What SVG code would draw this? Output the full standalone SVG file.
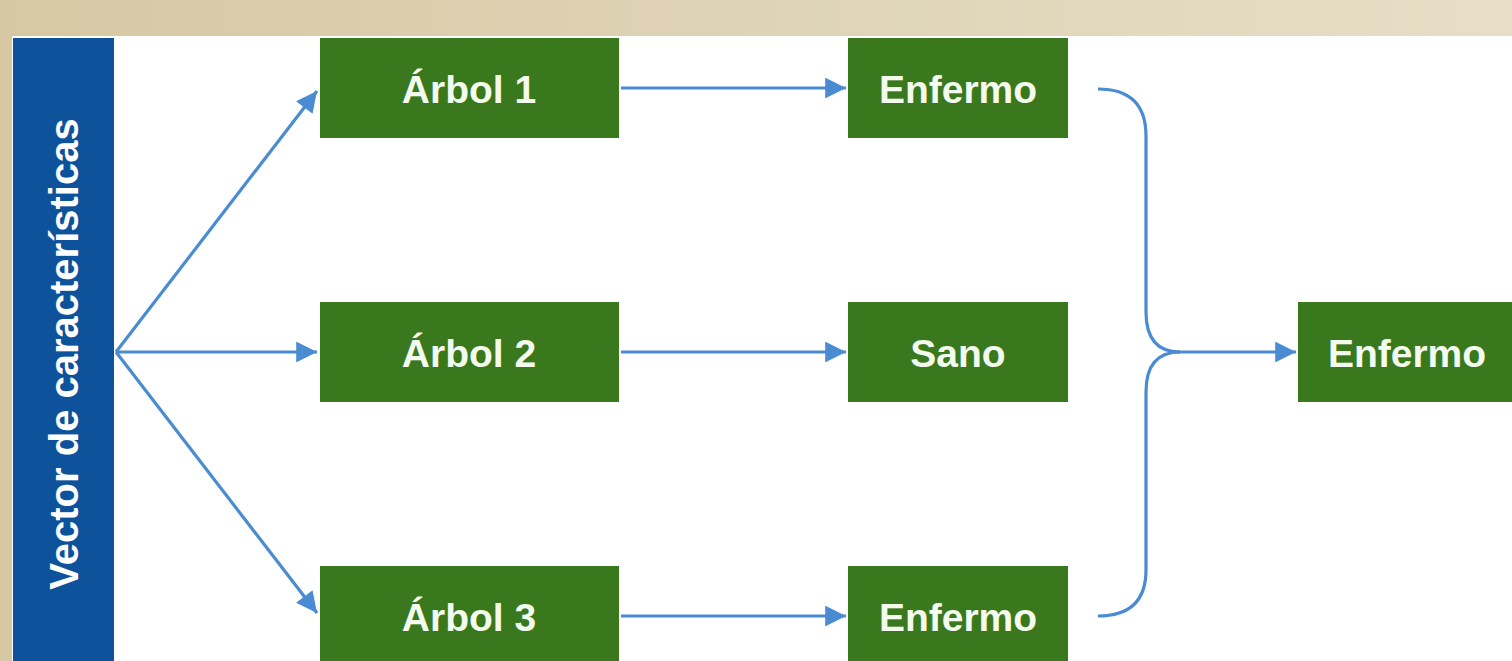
<svg xmlns="http://www.w3.org/2000/svg" width="1512" height="661" viewBox="0 0 1512 661">
  <defs>
    <linearGradient id="frame" x1="0" y1="0" x2="1" y2="0">
      <stop offset="0" stop-color="#d6c8a3"/>
      <stop offset="1" stop-color="#e6dec7"/>
    </linearGradient>
    <marker id="arrow" viewBox="0 0 10 10" refX="10" refY="5" markerWidth="8.5" markerHeight="6.5" markerUnits="strokeWidth" orient="auto">
      <path d="M0,0 L10,5 L0,10 z" fill="#4a8bd2"/>
    </marker>
    <style>
      .node rect { fill: #3a781d; }
      .node text { fill: #f3faee; font-family: "Liberation Sans", Arial, sans-serif; font-weight: bold; font-size: 39px; text-anchor: middle; }
      .link { fill: none; stroke: #4a8bd2; stroke-width: 3.2; }
      .bar text { fill: #ffffff; font-family: "Liberation Sans", Arial, sans-serif; font-weight: bold; font-size: 40px; text-anchor: middle; }
    </style>
  </defs>

  <!-- page background -->
  <rect x="0" y="0" width="1512" height="661" fill="url(#frame)"/>
  <rect x="12" y="36" width="1500" height="625" fill="#ffffff"/>

  <!-- input vector -->
  <g id="vector" class="bar">
    <rect x="13" y="38" width="101" height="623" fill="#0e529c"/>
    <text transform="translate(78,354) rotate(-90)">Vector de características</text>
  </g>

  <!-- connectors -->
  <g id="connectors">
    <path class="link" d="M116,352 L317,91" marker-end="url(#arrow)"/>
    <path class="link" d="M116,352 L317,352" marker-end="url(#arrow)"/>
    <path class="link" d="M116,352 L317,613" marker-end="url(#arrow)"/>
    <path class="link" d="M621,88 L846,88" marker-end="url(#arrow)"/>
    <path class="link" d="M621,352 L846,352" marker-end="url(#arrow)"/>
    <path class="link" d="M621,616 L846,616" marker-end="url(#arrow)"/>
    <path class="link" d="M1098,89 Q1146,89 1146,136 L1146,312 Q1146,352 1180,352"/>
    <path class="link" d="M1098,616 Q1146,616 1146,570 L1146,392 Q1146,352 1180,352"/>
    <path class="link" d="M1178,352 L1296,352" marker-end="url(#arrow)"/>
  </g>

  <!-- trees -->
  <g id="arbol1" class="node">
    <rect x="320" y="38" width="299" height="100"/>
    <text x="469" y="103">Árbol 1</text>
  </g>
  <g id="arbol2" class="node">
    <rect x="320" y="302" width="299" height="100"/>
    <text x="469" y="367">Árbol 2</text>
  </g>
  <g id="arbol3" class="node">
    <rect x="320" y="566" width="299" height="100"/>
    <text x="469" y="631">Árbol 3</text>
  </g>

  <!-- per-tree votes -->
  <g id="voto1" class="node">
    <rect x="848" y="38" width="220" height="100"/>
    <text x="958" y="103">Enfermo</text>
  </g>
  <g id="voto2" class="node">
    <rect x="848" y="302" width="220" height="100"/>
    <text x="958" y="367">Sano</text>
  </g>
  <g id="voto3" class="node">
    <rect x="848" y="566" width="220" height="100"/>
    <text x="958" y="631">Enfermo</text>
  </g>

  <!-- aggregated result -->
  <g id="resultado" class="node">
    <rect x="1298" y="302" width="220" height="100"/>
    <text x="1407" y="367">Enfermo</text>
  </g>
</svg>
